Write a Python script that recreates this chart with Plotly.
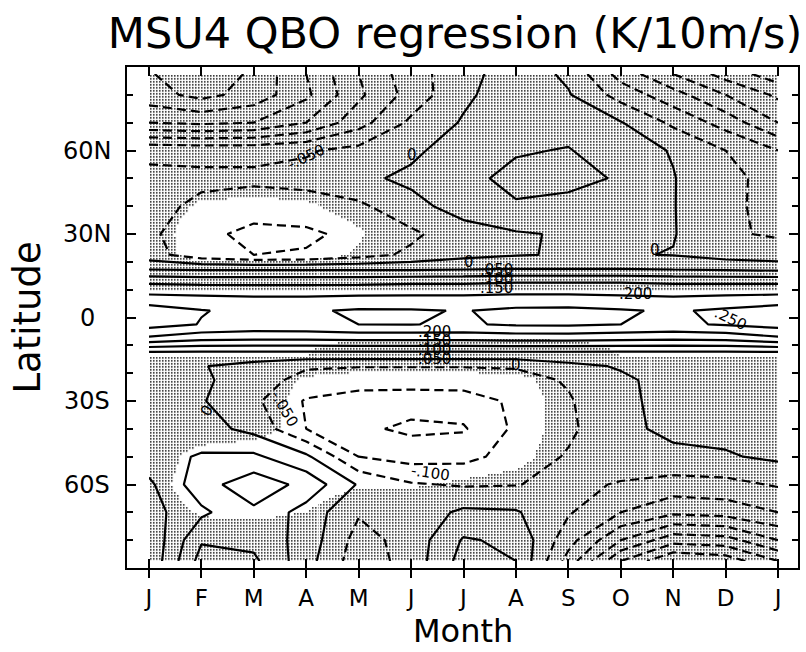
import numpy as np
import plotly.graph_objects as go

# ---- grid -------------------------------------------------------------
months = list(range(13))
month_labels = ["J", "F", "M", "A", "M", "J", "J", "A", "S", "O", "N", "D", "J"]
lats = [-87.5, -80, -70, -60, -50, -40, -30, -22.5, -17.5, -12.5, -7.5, -2.5,
        2.5, 7.5, 12.5, 17.5, 22.5, 30, 40, 50, 60, 70, 80, 87.5]
lat_ticks = [-60, -30, 0, 30, 60]
lat_labels = ["60S", "30S", "0", "30N", "60N"]

# ---- MSU4 regression on QBO index (K per 10 m/s), Jan..Jan per latitude ----
reg_s875 = [-0.04, 0.12, 0.11, 0.02, -0.08, -0.03, 0.07, 0.05, -0.12, -0.30, -0.40, -0.38, -0.30]
reg_s80 = [-0.04, 0.095, 0.085, 0.03, -0.07, -0.03, 0.055, 0.04, -0.08, -0.20, -0.28, -0.27, -0.20]
reg_s70 = [-0.02, 0.04, 0.09, 0.03, -0.045, -0.03, 0.01, 0.005, -0.045, -0.10, -0.14, -0.13, -0.10]
reg_s60 = [-0.01, 0.08, 0.13, 0.085, -0.005, -0.045, -0.055, -0.052, -0.035, -0.055, -0.07, -0.065, -0.045]
reg_s50 = [0.03, 0.055, 0.06, 0.01, -0.10, -0.12, -0.115, -0.08, -0.045, -0.015, -0.01, -0.005, 0.01]
reg_s40 = [0.02, 0.02, -0.015, -0.10, -0.14, -0.16, -0.155, -0.09, -0.06, -0.01, 0.01, 0.015, 0.015]
reg_s30 = [0.012, 0.004, -0.04, -0.105, -0.125, -0.13, -0.125, -0.09, -0.055, -0.01, 0.015, 0.02, 0.02]
reg_s225 = [0.008, 0.01, -0.03, -0.065, -0.075, -0.075, -0.075, -0.07, -0.045, -0.01, 0.02, 0.02, 0.02]
reg_s175 = [0.015, 0.003, -0.02, -0.045, -0.048, -0.048, -0.048, -0.045, -0.015, 0.005, 0.012, 0.015, 0.015]
reg_s125 = [0.045, 0.045, 0.045, 0.045, 0.045, 0.045, 0.045, 0.045, 0.045, 0.045, 0.045, 0.045, 0.045]
reg_s75 = [0.19, 0.165, 0.16, 0.16, 0.165, 0.165, 0.165, 0.17, 0.17, 0.165, 0.16, 0.165, 0.19]
reg_s25 = [0.27, 0.248, 0.236, 0.24, 0.25, 0.251, 0.245, 0.256, 0.258, 0.25, 0.242, 0.254, 0.27]
reg_n25 = [0.275, 0.252, 0.24, 0.245, 0.255, 0.254, 0.248, 0.26, 0.262, 0.254, 0.245, 0.258, 0.275]
reg_n75 = [0.21, 0.205, 0.20, 0.20, 0.205, 0.205, 0.205, 0.21, 0.21, 0.205, 0.20, 0.205, 0.21]
reg_n125 = [0.145, 0.14, 0.14, 0.14, 0.14, 0.145, 0.145, 0.15, 0.15, 0.15, 0.145, 0.145, 0.145]
reg_n175 = [0.045, 0.04, 0.04, 0.04, 0.04, 0.04, 0.045, 0.05, 0.05, 0.05, 0.045, 0.04, 0.035]
reg_n225 = [-0.03, -0.08, -0.10, -0.095, -0.07, -0.04, -0.015, -0.003, 0.004, 0.004, -0.002, -0.02, -0.03]
reg_n30 = [-0.04, -0.085, -0.115, -0.11, -0.085, -0.06, -0.02, -0.005, 0.005, 0.01, 0.003, -0.045, -0.055]
reg_n40 = [-0.035, -0.06, -0.075, -0.07, -0.06, -0.015, 0.02, 0.045, 0.035, 0.015, 0.002, -0.04, -0.065]
reg_n50 = [-0.04, -0.04, -0.04, -0.035, -0.01, 0.01, 0.035, 0.065, 0.065, 0.045, 0.002, -0.035, -0.07]
reg_n60 = [-0.06, -0.065, -0.065, -0.055, -0.035, -0.01, 0.025, 0.045, 0.053, 0.02, -0.003, -0.05, -0.10]
reg_n70 = [-0.25, -0.26, -0.25, -0.20, -0.12, -0.04, 0.005, 0.03, 0.03, 0.003, -0.06, -0.12, -0.20]
reg_n80 = [-0.33, -0.365, -0.33, -0.26, -0.16, -0.08, -0.01, 0.03, 0.004, -0.07, -0.13, -0.20, -0.26]
reg_n875 = [-0.345, -0.39, -0.34, -0.25, -0.15, -0.07, -0.02, 0.03, -0.01, -0.12, -0.20, -0.27, -0.33]

# ---- significance score (>0.5 means significant, left unstippled) ----
sig_s875 = [0] * 13
sig_s80 = [0] * 13
sig_s70 = [0, 0.6, 0.7, 0.5, 0, 0, 0, 0, 0, 0, 0, 0, 0]
sig_s60 = [0.1, 1, 1, 0.9, 0.6, 0.6, 0.4, 0.2, 0, 0, 0, 0, 0]
sig_s50 = [0, 0.8, 0.9, 0.8, 1, 1, 1, 0.8, 0, 0, 0, 0, 0]
sig_s40 = [0, 0, 0.2, 0.8, 1, 1, 1, 0.9, 0.2, 0, 0, 0, 0]
sig_s30 = [0, 0, 0, 0.8, 1, 1, 1, 0.9, 0.2, 0, 0, 0, 0]
sig_s225 = [0, 0, 0, 0.6, 1, 1, 1, 0.8, 0, 0, 0, 0, 0]
sig_s175 = [0] * 13
sig_s125 = [0.7, 0.7, 0.7, 0.7, -1, -4, -4, -4, -1, 0.7, 0.7, 0.7, 0.7]
sig_s75 = [1] * 13
sig_s25 = [1] * 13
sig_n25 = [1] * 13
sig_n75 = [1] * 13
sig_n125 = [-0.5] * 13
sig_n175 = [0] * 13
sig_n225 = [0, 0.9, 1, 0.9, 0.4, 0, 0, 0, 0, 0, 0, 0, 0]
sig_n30 = [0, 1, 1, 1, 0.6, 0, 0, 0, 0, 0, 0, 0, 0]
sig_n40 = [0, 0.6, 0.7, 0.6, 0.2, 0, 0, 0, 0, 0, 0, 0, 0]
sig_n50 = [0] * 13
sig_n60 = [0] * 13
sig_n70 = [0] * 13
sig_n80 = [0] * 13
sig_n875 = [0] * 13

# ---- contour labels: position (month, latitude), level and rotation ----
label_month = [3.0, 5.02, 6.1, 6.62, 6.62, 6.62, 9.28, 9.66, 11.1,
               5.44, 5.44, 5.44, 5.44, 7.0, 1.1, 2.59, 5.38]
label_lat = [57.6, 58.3, 19.8, 17.0, 13.8, 10.6, 8.6, 24.1, -0.4,
             -5.2, -8.4, -11.6, -14.8, -17.0, -33.5, -32.8, -55.8]
label_level = [-0.05, 0, 0, 0.05, 0.10, 0.15, 0.20, 0, 0.25,
               0.20, 0.15, 0.10, 0.05, 0, 0, -0.05, -0.10]
label_angle = [-25, 0, 0, 0, 0, 0, 0, 0, 25, 0, 0, 0, 0, 0, -60, 60, 8]

reg = np.array([reg_s875, reg_s80, reg_s70, reg_s60, reg_s50, reg_s40, reg_s30,
                reg_s225, reg_s175, reg_s125, reg_s75, reg_s25, reg_n25, reg_n75,
                reg_n125, reg_n175, reg_n225, reg_n30, reg_n40, reg_n50, reg_n60,
                reg_n70, reg_n80, reg_n875])
sig = np.array([sig_s875, sig_s80, sig_s70, sig_s60, sig_s50, sig_s40, sig_s30,
                sig_s225, sig_s175, sig_s125, sig_s75, sig_s25, sig_n25, sig_n75,
                sig_n125, sig_n175, sig_n225, sig_n30, sig_n40, sig_n50, sig_n60,
                sig_n70, sig_n80, sig_n875], dtype=float)

# ---- stipple texture over the non-significant area ----
XR = [-0.418, 12.38]
YR = [-90, 90]
PLOT_W, PLOT_H = 673, 501
px_month = PLOT_W / (XR[1] - XR[0])
px_lat = PLOT_H / (YR[1] - YR[0])
pitch = 3.0
fx = np.arange(0.05, 12.0 + 1e-6, pitch / px_month)
fy = np.arange(lats[0] + 0.5, lats[-1] + 1e-6, pitch / px_lat)
rows_on_fx = np.array([np.interp(fx, months, r) for r in sig])
sig_fine = np.array([np.interp(fy, lats, rows_on_fx[:, j]) for j in range(len(fx))]).T
dots = np.where(sig_fine < 0.5, 1.0, np.nan)

TEXT_FONT = "DejaVu Sans"

fig = go.Figure()
fig.add_trace(go.Heatmap(
    x=fx, y=fy, z=dots, zmin=0, zmax=1,
    colorscale=[[0, "#111111"], [1, "#111111"]], showscale=False,
    xgap=1.5, ygap=1.5, hoverinfo="skip"))

# negative contours dashed, zero and positive solid
fig.add_trace(go.Contour(
    x=months, y=lats, z=reg, autocontour=False,
    contours=dict(start=-0.45, end=-0.05, size=0.05, coloring="none"),
    line=dict(color="black", width=2.2, dash="9px,5px", smoothing=0),
    showscale=False, hoverinfo="skip"))
fig.add_trace(go.Contour(
    x=months, y=lats, z=reg, autocontour=False,
    contours=dict(start=0.0, end=0.30, size=0.05, coloring="none"),
    line=dict(color="black", width=2.2, smoothing=0),
    showscale=False, hoverinfo="skip"))
# carrier for the inner tick marks axis
fig.add_trace(go.Scatter(x=[6], y=[0], xaxis="x2", mode="markers",
                         marker=dict(opacity=0), hoverinfo="skip"))


def level_text(v):
    if abs(v) < 1e-9:
        return "0"
    return f"{v:.3f}".replace("0.", ".", 1)


def tfont(size):
    return dict(family=TEXT_FONT, size=size, color="black")


annotations = []
for m, la, lv, ang in zip(label_month, label_lat, label_level, label_angle):
    annotations.append(dict(x=m, y=la, xref="x", yref="y", text=level_text(lv),
                            showarrow=False, textangle=ang, font=tfont(15)))
for v, t in zip(lat_ticks, lat_labels):
    annotations.append(dict(x=0, y=v, xref="paper", yref="y", xshift=-40,
                            text=t, showarrow=False, xanchor="center",
                            yanchor="middle", font=tfont(24)))
annotations.append(dict(x=0, y=0.5, xref="paper", yref="paper", xshift=-100,
                        text="Latitude", textangle=-90, showarrow=False,
                        xanchor="center", yanchor="middle", font=tfont(37)))
annotations.append(dict(x=0.5, y=0, xref="paper", yref="paper", yshift=-63,
                        text="Month", showarrow=False, xanchor="center",
                        yanchor="middle", font=tfont(32)))

fig.update_layout(
    width=806, height=652,
    margin=dict(l=127, r=6, t=67, b=84),
    paper_bgcolor="white", plot_bgcolor="white",
    showlegend=False,
    font=dict(family=TEXT_FONT, color="black"),
    title=dict(text="MSU4 QBO regression (K/10m/s)", x=455 / 806, y=1 - 33 / 652,
               xref="container", yref="container", xanchor="center", yanchor="middle",
               font=tfont(43)),
    xaxis=dict(range=XR, tickvals=months, ticktext=month_labels, ticks="outside",
               ticklen=8, tickwidth=1.5, tickcolor="black", showline=True,
               linecolor="black", linewidth=2, mirror=True, showgrid=False,
               zeroline=False, tickfont=tfont(23), ticklabelstandoff=0),
    xaxis2=dict(range=XR, overlaying="x", anchor="y", side="bottom",
                tickvals=months, ticks="inside", ticklen=9, tickwidth=1.5,
                tickcolor="black", mirror="ticks", showticklabels=False,
                showgrid=False, zeroline=False, showline=False),
    yaxis=dict(range=YR, tickvals=[-90, -60, -30, 0, 30, 60, 90], ticks="inside",
               ticklen=9, tickwidth=1.5, tickcolor="black", showticklabels=False,
               showline=True, linecolor="black", linewidth=2, mirror="ticks",
               showgrid=False, zeroline=False,
               minor=dict(dtick=10, tick0=0, ticks="inside", ticklen=6,
                          tickwidth=1.5, tickcolor="black", showgrid=False)),
    annotations=annotations,
)

fig.write_html("out.html")
